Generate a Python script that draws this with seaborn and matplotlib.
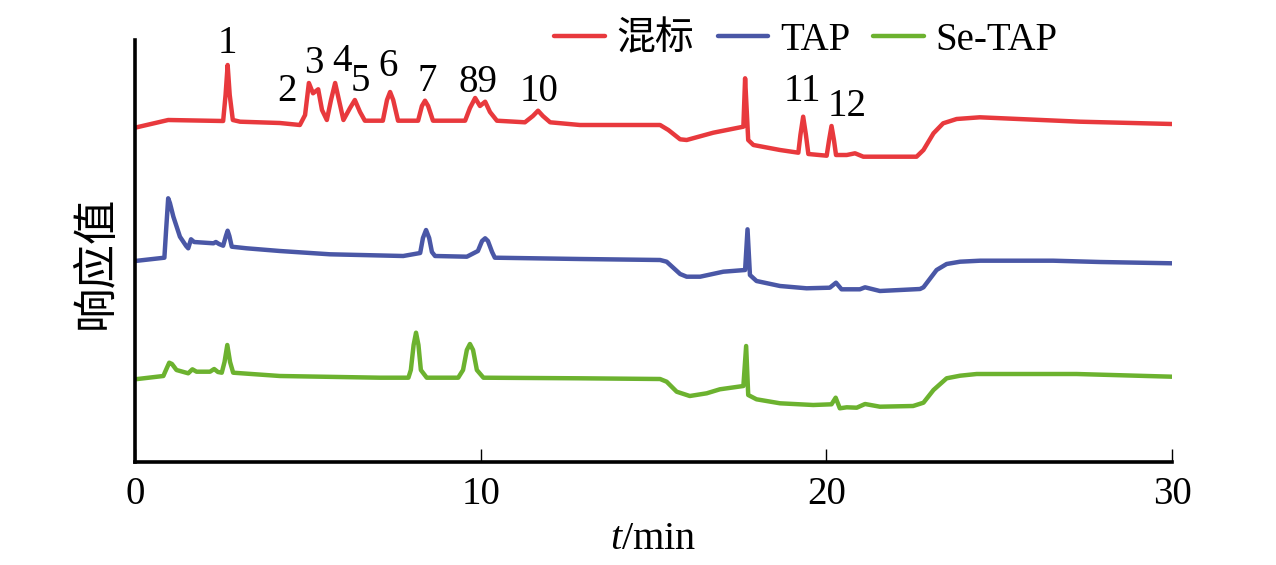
import numpy as np
import pandas as pd
import matplotlib
matplotlib.use("Agg")
import matplotlib.pyplot as plt
import seaborn as sns

# ---------------- data ----------------
series_names = ["混标", "TAP", "Se-TAP"]
series_colors = ["#e8393d", "#4a57a6", "#6cb22f"]

mix_t = [0.00, 0.96, 2.55, 2.62, 2.68, 2.74, 2.83, 3.04, 4.19, 4.77, 4.92, 5.03, 5.15, 5.30,
         5.41, 5.55, 5.67, 5.79, 5.90, 6.03, 6.22, 6.36, 6.51, 6.65, 7.17, 7.29, 7.38, 7.47,
         7.61, 8.19, 8.30, 8.39, 8.48, 8.62, 9.55, 9.69, 9.84, 9.98, 10.13, 10.27, 10.47,
         11.28, 11.51, 11.66, 11.80, 12.01, 12.87, 15.19, 15.43, 15.77, 15.96, 16.73, 17.60,
         17.65, 17.74, 17.89, 18.66, 19.19, 19.25, 19.33, 19.41, 19.48, 20.01, 20.08, 20.15,
         20.22, 20.28, 20.59, 20.83, 21.07, 22.61, 22.81, 23.10, 23.38, 23.77, 24.44, 27.34,
         30.00]
mix_v = [334.3, 342.0, 341.0, 367.0, 397.0, 367.0, 342.0, 340.3, 339.0, 337.0, 347.0, 379.0,
         368.7, 372.7, 352.0, 342.0, 362.0, 379.0, 362.0, 342.0, 354.0, 362.0, 350.0, 341.3,
         341.3, 362.0, 370.0, 362.0, 341.3, 341.3, 356.0, 361.3, 356.0, 341.3, 341.3, 354.0,
         364.0, 356.0, 360.3, 350.0, 341.3, 339.7, 346.0, 351.3, 346.0, 339.7, 337.0, 337.0,
         332.0, 322.7, 322.0, 329.3, 335.3, 383.7, 322.0, 317.0, 312.0, 309.3, 327.0, 345.3,
         327.0, 308.0, 306.3, 322.0, 336.0, 322.0, 307.0, 307.0, 308.7, 305.3, 305.3, 312.0,
         328.7, 338.7, 343.0, 344.7, 340.3, 338.0]

tap_t = [0.00, 0.85, 0.90, 0.96, 1.01, 1.11, 1.30, 1.48, 1.54, 1.62, 1.71, 2.27, 2.34, 2.43,
         2.55, 2.63, 2.68, 2.73, 2.80, 3.23, 4.19, 5.64, 7.76, 8.25, 8.33, 8.42, 8.51, 8.59,
         8.68, 9.60, 9.92, 10.04, 10.13, 10.21, 10.33, 10.41, 12.87, 15.19, 15.38, 15.77,
         15.96, 16.35, 17.02, 17.65, 17.72, 17.79, 17.98, 18.66, 19.43, 20.10, 20.28, 20.44,
         20.97, 21.12, 21.55, 22.71, 22.81, 23.19, 23.48, 23.87, 24.45, 26.56, 27.92, 30.00]
tap_v = [201.0, 204.3, 232.0, 263.7, 259.0, 245.3, 225.3, 216.0, 213.7, 222.7, 220.0, 218.7,
         220.0, 218.0, 216.3, 226.0, 231.3, 226.0, 215.3, 213.7, 211.0, 207.7, 206.0, 209.0,
         224.0, 232.0, 224.0, 210.0, 206.0, 205.3, 211.0, 221.0, 223.7, 221.0, 210.0, 204.3,
         203.0, 202.0, 200.3, 188.0, 185.3, 185.3, 190.3, 192.0, 232.7, 187.0, 181.0, 176.0,
         173.7, 174.3, 179.3, 172.7, 172.7, 174.7, 171.0, 173.0, 174.7, 192.0, 198.0, 200.3,
         201.3, 201.3, 200.0, 198.7]

setap_t = [0.00, 0.82, 0.87, 0.99, 1.07, 1.20, 1.54, 1.66, 1.78, 2.17, 2.29, 2.40, 2.51, 2.59,
           2.67, 2.75, 2.84, 4.19, 7.09, 7.91, 7.98, 8.06, 8.13, 8.20, 8.27, 8.44, 9.35, 9.49,
           9.60, 9.69, 9.78, 9.89, 10.08, 12.87, 15.19, 15.38, 15.67, 16.05, 16.54, 16.92,
           17.60, 17.68, 17.74, 17.98, 18.66, 19.62, 20.15, 20.27, 20.39, 20.59, 20.88, 21.12,
           21.55, 22.51, 22.81, 23.10, 23.48, 23.87, 24.35, 27.24, 29.27, 30.00]
setap_v = [82.7, 86.0, 90.0, 99.3, 98.0, 92.0, 88.7, 92.7, 90.3, 90.3, 93.0, 90.0, 89.3, 100.0,
           117.0, 100.0, 89.3, 86.0, 84.3, 84.3, 92.0, 117.0, 129.3, 117.0, 92.0, 84.3, 84.3,
           92.0, 112.0, 118.0, 112.0, 92.0, 84.3, 83.7, 83.0, 80.3, 70.3, 66.0, 68.7, 72.7,
           76.0, 116.0, 67.0, 62.7, 58.7, 57.0, 57.7, 64.3, 53.7, 54.7, 54.3, 58.0, 55.3, 56.0,
           59.3, 72.0, 83.7, 86.3, 88.0, 88.0, 86.0, 85.3]

peak_labels = ["1", "2", "3", "4", "5", "6", "7", "89", "10", "11", "12"]
peak_label_t = [2.67, 4.39, 5.16, 5.99, 6.51, 7.32, 8.44, 9.92, 11.69, 19.32, 20.59]
peak_label_v = [418.7, 370.3, 398.7, 400.3, 380.3, 395.3, 380.3, 379.0, 370.3, 370.3, 355.3]

x_ticks = [0, 10, 20, 30]
x_label = "$t$/min"
y_label = "响应值"

# ---------------- styling ----------------
sns.set_theme(style="white")
plt.rcParams["font.family"] = ["Liberation Serif", "Noto Sans CJK SC", "DejaVu Sans"]
plt.rcParams["mathtext.fontset"] = "custom"
plt.rcParams["mathtext.rm"] = "Liberation Serif"
plt.rcParams["mathtext.it"] = "Liberation Serif:italic"
plt.rcParams["text.color"] = "black"
plt.rcParams["axes.labelcolor"] = "black"
plt.rcParams["xtick.color"] = "black"

FS = 28
LW = 3.2

fig = plt.figure(figsize=(12.76, 5.65), dpi=100)
ax = fig.add_axes([135 / 1276, 103 / 565, 1037 / 1276, 422 / 565])

frames = []
for name, t, v in [(series_names[0], mix_t, mix_v),
                   (series_names[1], tap_t, tap_v),
                   (series_names[2], setap_t, setap_v)]:
    frames.append(pd.DataFrame({"t": t, "v": v, "series": name}))
df = pd.concat(frames, ignore_index=True)

for name, color in zip(series_names, series_colors):
    sub = df[df["series"] == name]
    sns.lineplot(data=sub, x="t", y="v", ax=ax, color=color, lw=LW,
                 estimator=None, sort=False, label=name)

for lab, t, v in zip(peak_labels, peak_label_t, peak_label_v):
    ax.text(t, v, lab, ha="center", va="center", fontsize=FS, color="black")

ax.set_xlim(0, 30)
ax.set_ylim(0, 422)
ax.set_xticks(x_ticks)
ax.set_xticklabels([str(x) for x in x_ticks], fontsize=FS, color="black")
ax.set_yticks([])
for s in ["top", "right"]:
    ax.spines[s].set_visible(False)
for s in ["left", "bottom"]:
    ax.spines[s].set_color("black")
    ax.spines[s].set_linewidth(2.6)
ax.tick_params(axis="x", direction="in", length=9.5, width=1.0, pad=10,
               colors="black", bottom=True)

ax.set_xlabel(x_label, fontsize=29, labelpad=6, color="black")
ax.set_ylabel(y_label, fontsize=32, color="black",
              family=["Noto Sans CJK SC", "DejaVu Sans"])
ax.yaxis.set_label_coords(-0.016, 0.474)

leg = ax.legend(loc="center", bbox_to_anchor=(0.647, 1.0), ncol=3, frameon=False,
                fontsize=FS, handlelength=1.3, handletextpad=0.3, columnspacing=0.6,
                borderaxespad=0)
for h in leg.get_lines():
    h.set_linewidth(LW)
for txt in leg.get_texts():
    txt.set_color("black")

fig.savefig("out.png", dpi=100)
